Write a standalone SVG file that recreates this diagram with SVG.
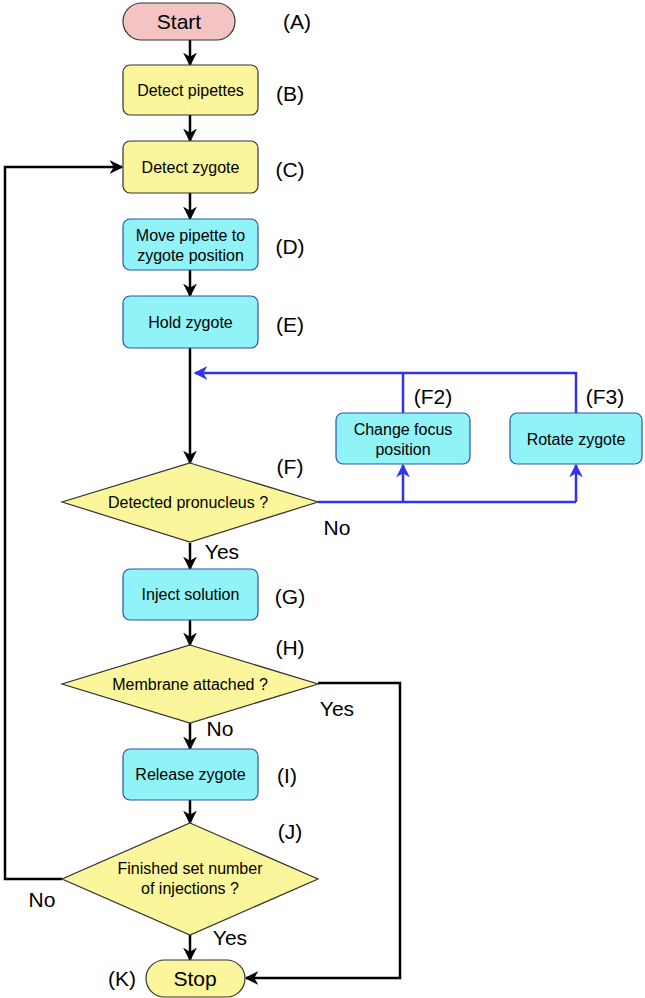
<svg xmlns="http://www.w3.org/2000/svg" width="645" height="998" viewBox="0 0 645 998">
<defs>
<marker id="ak" viewBox="0 0 10 10" refX="9" refY="5" markerWidth="5.5" markerHeight="5.5" orient="auto"><path d="M0,0 L10,5 L0,10 L3,5 z" fill="#000"/></marker>
<marker id="ab" viewBox="0 0 10 10" refX="9" refY="5" markerWidth="5.5" markerHeight="5.5" orient="auto"><path d="M0,0 L10,5 L0,10 L3,5 z" fill="#3333ee"/></marker>
</defs>
<style>
text{font-family:"Liberation Sans",Arial,sans-serif;fill:#000}
.t{font-size:16px;text-anchor:middle}
.l{font-size:21px;text-anchor:middle}
.y{fill:#fbf59b;stroke:#333;stroke-width:1.2}
.c{fill:#8ff3f7;stroke:#2a55aa;stroke-width:1.2}
.k{fill:none;stroke:#000;stroke-width:2.5;marker-end:url(#ak)}
.k0{fill:none;stroke:#000;stroke-width:2.5}
.b{fill:none;stroke:#3333ee;stroke-width:2.5;marker-end:url(#ab)}
.b0{fill:none;stroke:#3333ee;stroke-width:2.5}
</style>
<g id="connectors">
<path class="k" d="M190,40 V65"/>
<path class="k" d="M190,115 V141"/>
<path class="k" d="M190,193 V219"/>
<path class="k" d="M190,270 V296"/>
<path class="k" d="M190,348 V463"/>
<path class="b" d="M576,413 V373 H195"/>
<path class="b0" d="M403,413 V373"/>
<path class="b0" d="M318,502 H576"/>
<path class="b" d="M403,502 V465"/>
<path class="b" d="M576,502 V465"/>
<path class="k" d="M190,543 V569"/>
<path class="k" d="M190,620 V645"/>
<path class="k" d="M318,683 H400 V978 H246"/>
<path class="k" d="M190,723 V749"/>
<path class="k" d="M190,800 V823"/>
<path class="k" d="M62,879 H5 V167 H122"/>
<path class="k" d="M190,935 V960"/>
</g>
<g id="A"><rect x="123" y="3" width="112" height="37" rx="18.5" fill="#f4c4c2" stroke="#333" stroke-width="1.2"/><text class="t" x="179" y="29" style="font-size:21px">Start</text><text class="l" x="297" y="29">(A)</text></g>
<g id="B"><rect class="y" x="123" y="65" width="135" height="50" rx="7"/><text class="t" x="190.5" y="96">Detect pipettes</text><text class="l" x="290" y="101">(B)</text></g>
<g id="C"><rect class="y" x="123" y="141" width="135" height="52" rx="7"/><text class="t" x="190.5" y="173">Detect zygote</text><text class="l" x="290" y="177">(C)</text></g>
<g id="D"><rect class="c" x="123" y="219" width="135" height="51" rx="7"/><text class="t" x="190.5" y="241">Move pipette to</text><text class="t" x="190.5" y="261">zygote position</text><text class="l" x="290" y="254">(D)</text></g>
<g id="E"><rect class="c" x="123" y="296" width="135" height="52" rx="7"/><text class="t" x="190.5" y="328">Hold zygote</text><text class="l" x="290" y="332">(E)</text></g>
<g id="F2"><rect class="c" x="336" y="413" width="134" height="51" rx="7"/><text class="t" x="403" y="435">Change focus</text><text class="t" x="403" y="455">position</text><text class="l" x="433" y="404">(F2)</text></g>
<g id="F3"><rect class="c" x="510" y="413" width="132" height="51" rx="7"/><text class="t" x="576" y="445">Rotate zygote</text><text class="l" x="605" y="404">(F3)</text></g>
<g id="F"><polygon class="y" points="190,463 318,502 190,542 62,502"/><text class="t" x="188" y="508">Detected pronucleus ?</text><text class="l" x="290" y="474">(F)</text><text class="l" x="337" y="535">No</text><text class="l" x="222" y="559">Yes</text></g>
<g id="G"><rect class="c" x="123" y="569" width="135" height="51" rx="7"/><text class="t" x="190.5" y="600">Inject solution</text><text class="l" x="290" y="604">(G)</text></g>
<g id="H"><polygon class="y" points="190,645 318,684 190,723 62,684"/><text class="t" x="190" y="690">Membrane attached ?</text><text class="l" x="290" y="655">(H)</text><text class="l" x="337" y="716">Yes</text><text class="l" x="220" y="736">No</text></g>
<g id="I"><rect class="c" x="123" y="749" width="135" height="51" rx="7"/><text class="t" x="190.5" y="780">Release zygote</text><text class="l" x="287" y="783">(I)</text></g>
<g id="J"><polygon class="y" points="190,823 318,879 190,935 62,879"/><text class="t" x="190" y="874">Finished set number</text><text class="t" x="190" y="894">of injections ?</text><text class="l" x="290" y="839">(J)</text><text class="l" x="42" y="907">No</text><text class="l" x="230" y="945">Yes</text></g>
<g id="K"><rect x="146" y="960" width="99" height="37" rx="18.5" fill="#fbf59b" stroke="#333" stroke-width="1.2"/><text class="t" x="195" y="986" style="font-size:21px">Stop</text><text class="l" x="122" y="986">(K)</text></g>
</svg>
